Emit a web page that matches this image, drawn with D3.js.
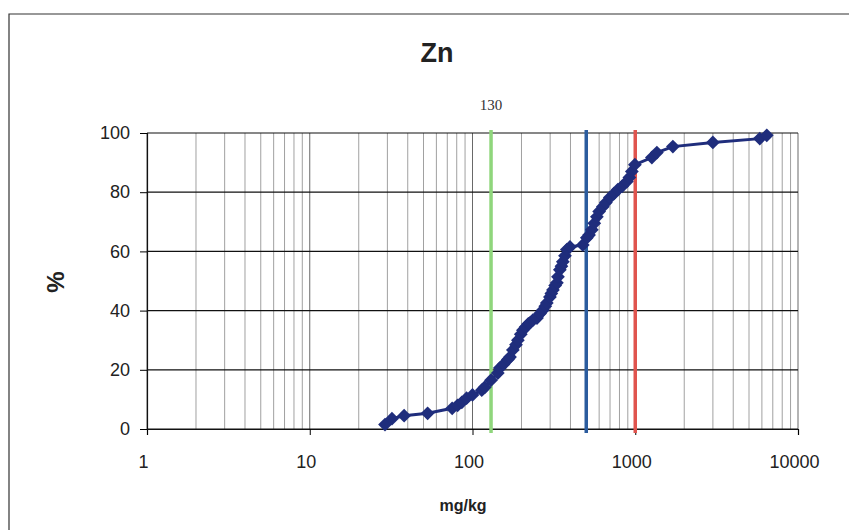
<!DOCTYPE html>
<html>
<head>
<meta charset="utf-8">
<script src="https://cdn.jsdelivr.net/npm/d3@7"></script>
<style>
  body { margin: 0; background: #fff; }
</style>
</head>
<body>
<div id="chart"></div>
<script>
// Zn concentration (mg/kg) and cumulative percentage
const znValues = [29, 32, 38, 53, 75, 81, 86, 92, 100, 114, 119, 130, 143, 147, 155, 165, 170, 177, 185, 190,
  198, 204, 212, 220, 225, 235, 249, 260, 271, 280, 286, 299, 305, 312, 322, 330, 335, 344, 352, 359,
  370, 380, 397, 476, 504, 520, 541, 560, 581, 600, 632, 660, 698, 740, 782, 830, 888, 920, 953, 995,
  1265, 1358, 1703, 2998, 5822, 6430];
const cumPct = [1.5, 3.5, 4.5, 5.3, 7.0, 8.0, 9.0, 10.4, 11.5, 13.1, 14.1, 16.5, 18.9, 20.6, 21.8, 23.5, 24.3, 26.7, 28.5, 30.0,
  32.0, 33.4, 34.5, 35.5, 35.8, 36.8, 37.5, 39.0, 40.2, 41.5, 42.6, 44.6, 45.8, 47.0, 48.5, 49.4, 51.4, 53.8, 55.0, 56.5,
  58.5, 60.6, 61.5, 62.2, 64.6, 65.5, 67.3, 69.5, 71.7, 73.5, 75.1, 76.5, 78.2, 79.5, 80.9, 82.0, 83.6, 85.0, 87.0, 89.3,
  91.7, 93.4, 95.4, 96.8, 98.1, 99.2];

const xTicks = [1, 10, 100, 1000, 10000];
const yTicks = [0, 20, 40, 60, 80, 100];

// reference limits
const limits = [
  { value: 130, color: "#8fd67c", label: "130" },
  { value: 500, color: "#2b5c9e" },
  { value: 1000, color: "#e0544e" }
];

const data = znValues.map((v, i) => ({ v: v, p: cumPct[i] }));

const w = 849, h = 530;
const margin = { top: 133, right: 51, bottom: 101, left: 147 };

const svg = d3.select("#chart").append("svg")
    .attr("width", w)
    .attr("height", h);

// outer frame (top and left edges visible in the scan)
svg.append("path")
    .attr("d", `M9,${h} L9,14 L${w},14`)
    .attr("fill", "none")
    .attr("stroke", "#333")
    .attr("stroke-width", 1.2);

const x = d3.scaleLog()
    .domain([1, 10000])
    .range([margin.left, w - margin.right]);

const y = d3.scaleLinear()
    .domain([0, 100])
    .range([h - margin.bottom, margin.top]);

// vertical grid (log minor lines)
const minor = [];
for (let e = 0; e < 4; e++) {
    for (let k = 1; k <= 9; k++) minor.push(k * Math.pow(10, e));
}
minor.push(10000);

svg.append("g")
    .selectAll("line")
    .data(minor)
    .join("line")
    .attr("x1", d => x(d))
    .attr("x2", d => x(d))
    .attr("y1", y(100))
    .attr("y2", y(0))
    .attr("stroke", "#444")
    .attr("stroke-opacity", d => xTicks.includes(d) ? 0.8 : 0.5)
    .attr("stroke-width", 1);

// horizontal grid
svg.append("g")
    .selectAll("line")
    .data(yTicks)
    .join("line")
    .attr("x1", x(1))
    .attr("x2", x(10000))
    .attr("y1", d => y(d))
    .attr("y2", d => y(d))
    .attr("stroke", "#111")
    .attr("stroke-width", 1.2);

// axes
svg.append("g")
    .attr("transform", `translate(0,${y(0)})`)
    .call(d3.axisBottom(x).tickValues(xTicks).tickFormat(d3.format("d")).tickSizeOuter(0).tickSize(6).tickPadding(20))
    .call(g => g.select(".domain").attr("stroke", "#111").attr("stroke-width", 1.2))
    .call(g => g.selectAll("text")
        .attr("dx", -4)
        .attr("font-family", "Liberation Sans, Arial, sans-serif")
        .attr("font-size", 18)
        .attr("fill", "#222"));

svg.append("g")
    .attr("transform", `translate(${x(1)},0)`)
    .call(d3.axisLeft(y).tickValues(yTicks).tickSizeOuter(0).tickSize(7).tickPadding(10))
    .call(g => g.select(".domain").attr("stroke", "#111").attr("stroke-width", 1.2))
    .call(g => g.selectAll("text")
        .attr("font-family", "Liberation Sans, Arial, sans-serif")
        .attr("font-size", 18)
        .attr("fill", "#222"));

// limit lines
svg.append("g")
    .selectAll("line")
    .data(limits)
    .join("line")
    .attr("x1", d => x(d.value))
    .attr("x2", d => x(d.value))
    .attr("y1", y(100) - 3)
    .attr("y2", y(0) + 4)
    .attr("stroke", d => d.color)
    .attr("stroke-width", 3.5);

svg.append("text")
    .attr("x", x(limits[0].value))
    .attr("y", 110)
    .attr("text-anchor", "middle")
    .attr("font-family", "Liberation Serif, Times New Roman, serif")
    .attr("font-size", 15)
    .attr("fill", "#333")
    .text(limits[0].label);

// cumulative curve
const line = d3.line()
    .x(d => x(d.v))
    .y(d => y(d.p));

svg.append("path")
    .datum(data)
    .attr("fill", "none")
    .attr("stroke", "#1f2d7c")
    .attr("stroke-width", 3)
    .attr("d", line);

svg.append("g")
    .selectAll("path")
    .data(data)
    .join("path")
    .attr("transform", d => `translate(${x(d.v)},${y(d.p)}) rotate(45)`)
    .attr("d", d3.symbol(d3.symbolSquare, 95))
    .attr("fill", "#1f2d7c");

// labels
svg.append("text")
    .attr("x", 437)
    .attr("y", 62)
    .attr("text-anchor", "middle")
    .attr("font-family", "Liberation Sans Narrow, Arial Narrow, Liberation Sans, sans-serif")
    .attr("font-weight", "bold")
    .attr("font-size", 27)
    .attr("fill", "#222")
    .text("Zn");

svg.append("text")
    .attr("x", 463)
    .attr("y", 511)
    .attr("text-anchor", "middle")
    .attr("font-family", "Liberation Sans, Arial, sans-serif")
    .attr("font-weight", "bold")
    .attr("font-size", 16)
    .attr("fill", "#222")
    .text("mg/kg");

svg.append("text")
    .attr("transform", "translate(64,282) rotate(-90)")
    .attr("text-anchor", "middle")
    .attr("font-family", "Liberation Sans, Arial, sans-serif")
    .attr("font-weight", "bold")
    .attr("font-size", 24)
    .attr("fill", "#222")
    .text("%");
</script>
</body>
</html>
